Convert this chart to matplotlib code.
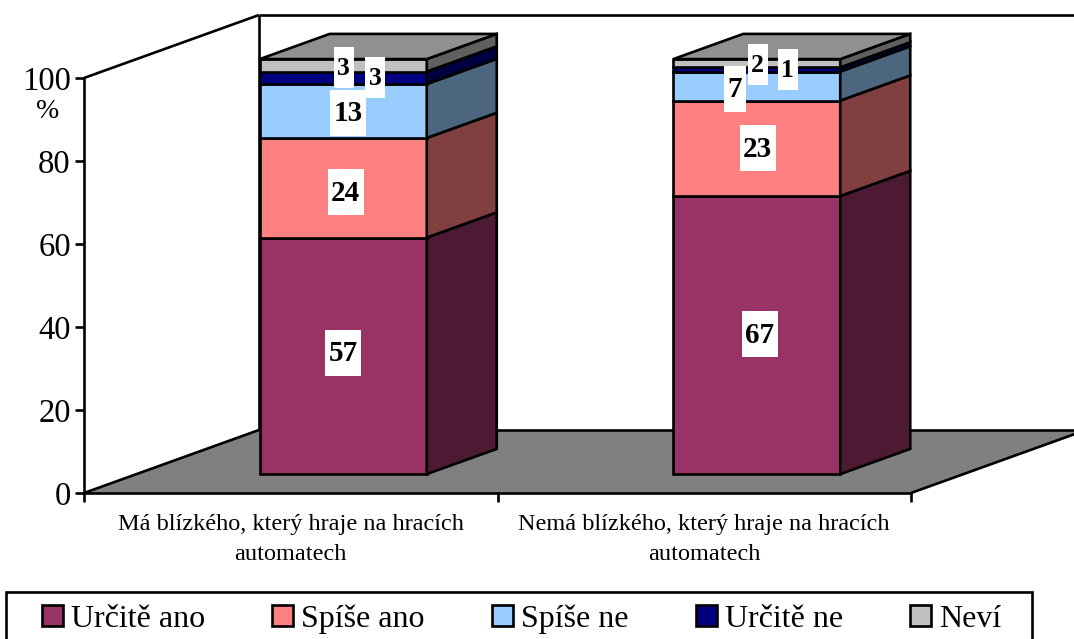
import matplotlib
matplotlib.use('Agg')
import matplotlib.pyplot as plt
from matplotlib.patches import Polygon, Rectangle
from matplotlib.path import Path

plt.rcParams['font.family'] = ['Liberation Serif', 'DejaVu Serif']

# Data
categories = ['Má blízkého, který hraje na hracích\nautomatech',
              'Nemá blízkého, který hraje na hracích\nautomatech']
series = ['Určitě ano', 'Spíše ano', 'Spíše ne', 'Určitě ne', 'Neví']
urcite_ano = [57, 67]
spise_ano = [24, 23]
spise_ne = [13, 7]
urcite_ne = [3, 1]
nevi = [3, 2]
values = [urcite_ano, spise_ano, spise_ne, urcite_ne, nevi]
y_ticks = [0, 20, 40, 60, 80, 100]

# Style
colors = ['#993366', '#FF8080', '#99CCFF', '#000080', '#C0C0C0']
sides = ['#4D1A33', '#804040', '#4D6680', '#000040', '#606060']
top_color = '#909090'
floor_color = '#808080'
lw = 1.9
W, H = 1074, 639
bar_w = 167 / 413.5
dx_full = 175 / 413.5   # oblique shift of the whole floor
dy_full = 63 / 4.15
bar_front = 0.30        # depth of front face as part of floor depth
bar_depth = 0.40

# manual label shifts in pixels (x, y up), per series and category
label_shift = [[(0, 2), (3, 0)],
               [(2.5, -5.5), (1, -1)],
               [(5, -3), (-22, -3.5)],
               [(32, -1), (31, -1)],
               [(0.5, -3), (1, -2)]]


def box_for(w_pad, total_h):
    def box(x0, y0, width, height, mutation_size):
        cy = y0 + height / 2 + 1
        x1, x2 = x0 - w_pad, x0 + width + w_pad
        y1, y2 = cy - total_h / 2, cy + total_h / 2
        return Path([(x1, y1), (x2, y1), (x2, y2), (x1, y2), (x1, y1)], closed=True)
    return box


fig = plt.figure(figsize=(W / 100, H / 100), dpi=100)
ax = fig.add_axes([84 / W, (H - 493) / H, 827 / W, 415 / H])
ax.set_xlim(0, 2)
ax.set_ylim(0, 100)
ax.patch.set_visible(False)

# floor and wall lines
ax.add_patch(Polygon([(0, 0), (2, 0), (2 + dx_full, dy_full), (dx_full, dy_full)],
                     fc=floor_color, ec='none', clip_on=False, zorder=1))
line_kw = dict(color='black', lw=lw, clip_on=False, zorder=1.5, solid_capstyle='butt')
ax.plot([0, dx_full], [0, dy_full], **line_kw)
ax.plot([0, dx_full], [100, 100 + dy_full], **line_kw)
ax.plot([dx_full, dx_full], [dy_full, 100 + dy_full], **line_kw)
ax.plot([dx_full, 2 + dx_full], [100 + dy_full, 100 + dy_full], **line_kw)
ax.plot([dx_full, 2 + dx_full], [dy_full, dy_full], **line_kw)
ax.plot([2, 2 + dx_full], [0, dy_full], **line_kw)

# stacked bars
for c in range(len(categories)):
    x0 = c + (1 - bar_w) / 2 + bar_front * dx_full
    y_base = bar_front * dy_full
    ddx = bar_depth * dx_full
    ddy = bar_depth * dy_full
    bottom = y_base
    for s in range(len(series)):
        v = values[s][c]
        ax.add_patch(Rectangle((x0, bottom), bar_w, v, fc=colors[s], ec='black',
                               lw=lw, clip_on=False, zorder=3, joinstyle='miter'))
        ax.add_patch(Polygon([(x0 + bar_w, bottom), (x0 + bar_w + ddx, bottom + ddy),
                              (x0 + bar_w + ddx, bottom + v + ddy), (x0 + bar_w, bottom + v)],
                             fc=sides[s], ec='black', lw=lw, clip_on=False, zorder=3))
        bottom += v
    ax.add_patch(Polygon([(x0, bottom), (x0 + bar_w, bottom),
                          (x0 + bar_w + ddx, bottom + ddy), (x0 + ddx, bottom + ddy)],
                         fc=top_color, ec='black', lw=lw, clip_on=False, zorder=3))

    # labels
    bottom = y_base
    for s in range(len(series)):
        v = values[s][c]
        sx, sy = label_shift[s][c]
        small = v <= 3
        ax.annotate(str(v), (x0 + bar_w / 2, bottom + v / 2),
                    xytext=(sx * 0.72, sy * 0.72), textcoords='offset points',
                    ha='center', va='center', fontweight='bold',
                    fontsize=18.5 if small else 21, zorder=6 if small else 5,
                    annotation_clip=False,
                    bbox=dict(boxstyle=box_for(3.5, 41 if small else 46), fc='white', ec='none'))
        bottom += v

# axes
for side in ['top', 'right']:
    ax.spines[side].set_visible(False)
for side in ['left', 'bottom']:
    ax.spines[side].set_linewidth(lw)
    ax.spines[side].set_zorder(2)
ax.set_yticks(y_ticks)
ax.tick_params(axis='y', labelsize=23.5, width=lw, length=6.5, pad=3)
ax.set_xticks([0, 1, 2])
ax.set_xticklabels([])
ax.tick_params(axis='x', which='major', width=lw, length=6.5)
ax.set_xticks([0.5, 1.5], minor=True)
ax.set_xticklabels(categories, minor=True, fontsize=17.5, linespacing=1.6)
ax.tick_params(axis='x', which='minor', length=0, pad=15)
fig.text(48 / W, 1 - 111.5 / H, '%', fontsize=20, ha='center', va='center')

# legend box runs past the bottom of the picture
fig.add_artist(Rectangle((6 / W, -10 / H), 1026 / W, (H - 592 + 10) / H, fc='white',
                         ec='black', lw=lw, transform=fig.transFigure))
handles = [Rectangle((0, 0), 1, 1, fc=col, ec='black', lw=lw) for col in colors]
fig.legend(handles, series, loc='center left', bbox_to_anchor=(42 / W, 1 - 619 / H),
           ncol=5, frameon=False, fontsize=23, borderpad=0, borderaxespad=0,
           handlelength=0.66, handleheight=0.66, handletextpad=0.25, columnspacing=2.1)

fig.savefig('out.png', dpi=100)
